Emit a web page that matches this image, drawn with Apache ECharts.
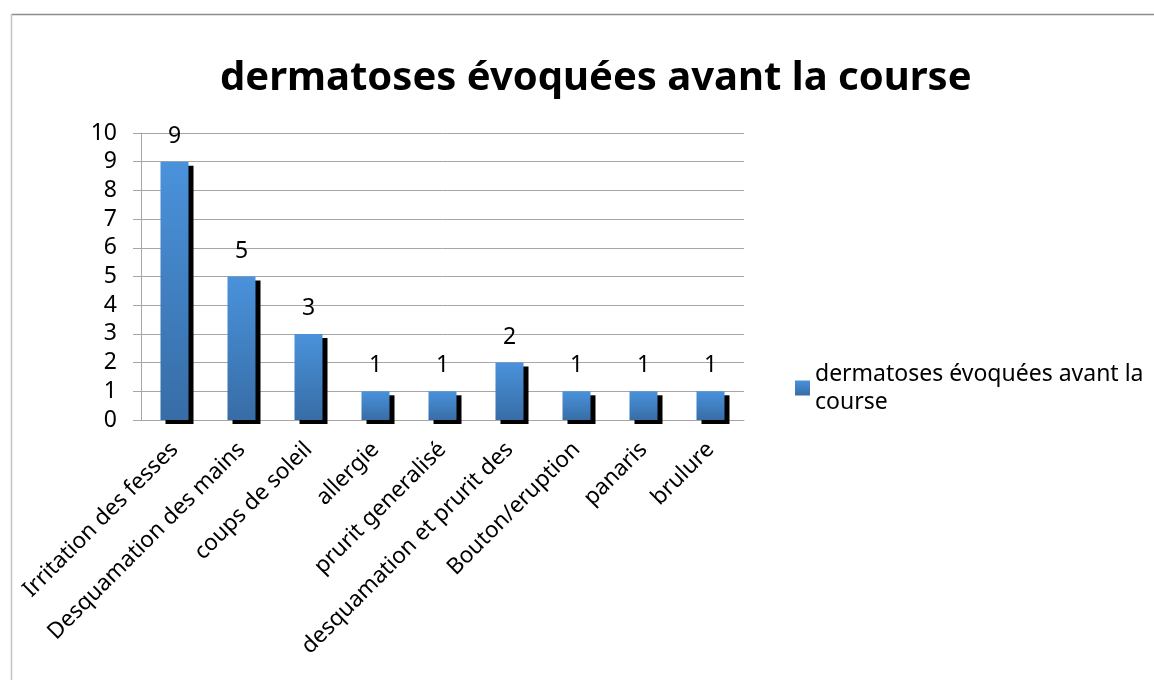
<!DOCTYPE html>
<html lang="fr">

<head>
    <meta charset="UTF-8">
    <title>dermatoses évoquées avant la course</title>
    <style>
        body { margin: 0; background: #fff; }
    </style>
</head>

<body>
    <div id="main" style="width: 1154px;height:680px;"></div>
</body>
<script src="https://cdn.jsdelivr.net/npm/echarts@6/dist/echarts.min.js"></script>

<script>
    var titre = 'dermatoses évoquées avant la course'
    var categories = ['Irritation des fesses', 'Desquamation des mains', 'coups de soleil', 'allergie',
        'prurit generalisé', 'desquamation et prurit des', 'Bouton/eruption', 'panaris', 'brulure']
    var valeurs = [9, 5, 3, 1, 1, 2, 1, 1, 1]
    var yTicks = [0, 10, 1]  // min, max, interval

    var police = 'Noto Sans'
    var myChart = echarts.init(document.getElementById('main'));
    myChart.setOption({
        animation: false,
        title: {
            text: titre,
            left: 215,
            top: 54,
            textStyle: { fontSize: 40, fontWeight: 'bold', color: '#000', fontFamily: police }
        },
        legend: {
            data: [titre],
            left: 790,
            top: 355,
            orient: 'vertical',
            itemWidth: 15,
            itemHeight: 15,
            icon: 'rect',
            // retour à la ligne avant le dernier mot, comme dans l'original
            formatter: function (name) {
                var i = name.lastIndexOf(' ')
                return name.slice(0, i) + '\n' + name.slice(i + 1)
            },
            textStyle: { fontSize: 23, color: '#000', fontFamily: police, lineHeight: 28 }
        },
        graphic: [
            // cadre du graphique (haut et gauche visibles)
            { type: 'line', shape: { x1: 11, y1: 14.5, x2: 1154, y2: 14.5 }, style: { stroke: '#8c8c8c', lineWidth: 1.5 } },
            { type: 'line', shape: { x1: 11.5, y1: 14, x2: 11.5, y2: 680 }, style: { stroke: '#c4c4c4', lineWidth: 1.5 } }
        ],
        grid: { left: 141, top: 133, right: 410, bottom: 260 },
        xAxis: {
            type: 'category',
            data: categories,
            axisLine: { lineStyle: { color: '#a6a6a6' } },
            axisTick: { length: 8, lineStyle: { color: '#a6a6a6' } },
            axisLabel: {
                interval: 0, rotate: 45, fontSize: 22.5, color: '#000', fontFamily: police, margin: 26
            }
        },
        yAxis: {
            type: 'value',
            min: yTicks[0],
            max: yTicks[1],
            interval: yTicks[2],
            axisLine: { show: true, lineStyle: { color: '#a6a6a6' } },
            axisTick: { show: true, length: 8, lineStyle: { color: '#a6a6a6' } },
            axisLabel: { fontSize: 23, color: '#000', fontFamily: police, margin: 24 },
            splitLine: { lineStyle: { color: '#a6a6a6' } }
        },
        series: [{
            name: titre,
            type: 'bar',
            data: valeurs,
            barWidth: 28,
            label: {
                show: true, position: 'top', distance: 14,
                fontSize: 23, color: '#000', fontFamily: police
            },
            itemStyle: {
                color: new echarts.graphic.LinearGradient(0, 0, 0, 1, [
                    { offset: 0, color: '#4a92db' },
                    { offset: 1, color: '#376da6' }
                ]),
                shadowColor: '#000',
                shadowBlur: 0,
                shadowOffsetX: 5,
                shadowOffsetY: 4
            }
        }]
    });
</script>

</html>
